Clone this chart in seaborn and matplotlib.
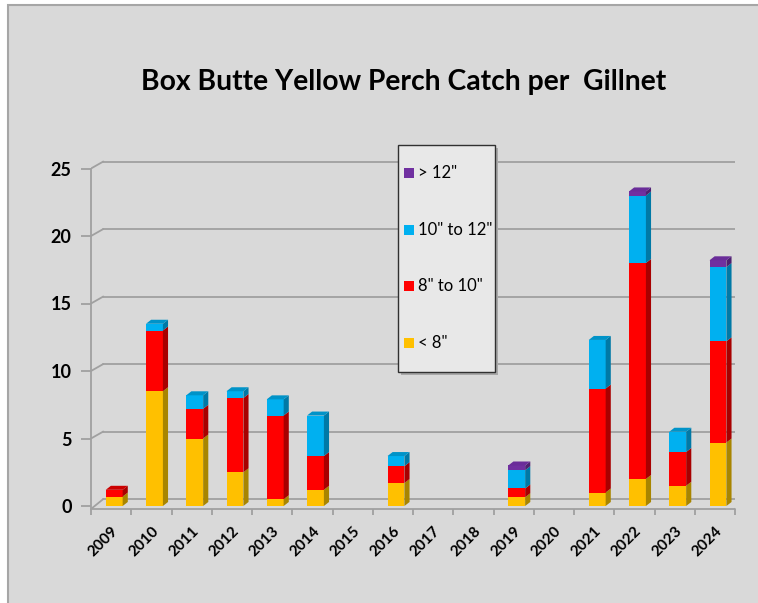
import numpy as np
import pandas as pd
import matplotlib
matplotlib.use('Agg')
import matplotlib.pyplot as plt
from matplotlib.patches import Polygon, Rectangle
import seaborn as sns

# data (catch per gillnet, stacked by length class)
years = ['2009', '2010', '2011', '2012', '2013', '2014', '2015', '2016',
         '2017', '2018', '2019', '2020', '2021', '2022', '2023', '2024']
under_8 = [0.7, 8.5, 5.0, 2.5, 0.5, 1.2, 0, 1.7, 0, 0, 0.65, 0, 1.0, 2.0, 1.5, 4.7]
from_8_to_10 = [0.5, 4.5, 2.2, 5.5, 6.2, 2.5, 0, 1.25, 0, 0, 0.65, 0, 7.7, 16.0, 2.5, 7.5]
from_10_to_12 = [0, 0.5, 1.0, 0.5, 1.2, 3.0, 0, 0.75, 0, 0, 1.35, 0, 3.6, 5.0, 1.5, 5.5]
over_12 = [0, 0, 0, 0, 0, 0, 0, 0, 0, 0, 0.35, 0, 0, 0.3, 0, 0.5]

series_labels = ['< 8"', '8" to 10"', '10" to 12"', '> 12"']
front_cols = ['#FFC000', '#FF0000', '#00B0F0', '#7030A0']
side_cols = ['#A88500', '#A80000', '#0079A6', '#4E2170']
top_cols = ['#D9A300', '#CC0000', '#0093C8', '#6A2D99']

df = pd.DataFrame({'year': years, '< 8"': under_8, '8" to 10"': from_8_to_10,
                   '10" to 12"': from_10_to_12, '> 12"': over_12})

sns.set_style('white')
plt.rcParams['font.family'] = ['Lato', 'DejaVu Sans']
plt.rcParams['text.color'] = 'black'
plt.rcParams['xtick.color'] = 'black'
plt.rcParams['ytick.color'] = 'black'

W, H = 758, 603
fig = plt.figure(figsize=(W / 100, H / 100), dpi=100)
fig.patch.set_facecolor('white')
fig.patches.append(Rectangle((8 / W, -0.01), 1.0, 1 - 5 / H + 0.01, transform=fig.transFigure,
                             facecolor='#D9D9D9', edgecolor='#A6A6A6', lw=1.5, zorder=-5))

ax = fig.add_axes([91 / W, (H - 509) / H, (735 - 91) / W, 359 / H])
ax.set_facecolor('none')

slot = 39.2   # px per category
upx = 13.5    # px per unit
x_right = -0.5 + (735 - 91) / slot
y_floor = -3 / upx
ax.set_xlim(-0.5, x_right)
ax.set_ylim(y_floor, y_floor + 359 / upx)

# back wall gridlines with oblique connectors
wdx, wdy = 12 / slot, 7 / upx
gcol = '#A0A0A0'
for v in range(0, 30, 5):
    y0 = y_floor if v == 0 else v
    ax.plot([-0.5, -0.5 + wdx], [y0, v + wdy], color=gcol, lw=1.3, zorder=1)
    ax.plot([-0.5 + wdx, x_right], [v + wdy, v + wdy], color=gcol, lw=1.3, zorder=1)
# floor
ax.plot([-0.5, 15.5], [y_floor, y_floor], color=gcol, lw=1.3, zorder=1, clip_on=False)
ax.plot([15.5, 15.5 + 10 / slot], [y_floor, wdy], color=gcol, lw=1.3, zorder=1)

# stacked bars
bottom = np.zeros(len(years))
for lab, col in zip(series_labels, front_cols):
    sns.barplot(data=df, x='year', y=lab, bottom=bottom, color=col, width=0.42,
                ax=ax, zorder=3, linewidth=0, saturation=1)
    bottom = bottom + df[lab].values

# depth faces computed from drawn bars
bdx, bdy = 5 / slot, 4 / upx
shift = 3 / slot
tops = {}
n = len(years)
for i, p in enumerate(list(ax.patches)):
    s = i // n
    p.set_x(p.get_x() + shift)
    h = p.get_height()
    if h <= 0:
        continue
    x0, y0, w = p.get_x(), p.get_y(), p.get_width()
    x1, y1 = x0 + w, y0 + h
    ax.add_patch(Polygon([(x1, y0), (x1 + bdx, y0 + bdy), (x1 + bdx, y1 + bdy), (x1, y1)],
                         closed=True, facecolor=side_cols[s], lw=0, zorder=3))
    tops[i % n] = (x0, x1, y1, s)
for k, (x0, x1, y1, s) in tops.items():
    ax.add_patch(Polygon([(x0, y1), (x0 + bdx, y1 + bdy), (x1 + bdx, y1 + bdy), (x1, y1)],
                         closed=True, facecolor=top_cols[s], lw=0, zorder=3))

# axes styling
for sp in ['top', 'right', 'bottom']:
    ax.spines[sp].set_visible(False)
ax.spines['left'].set_color(gcol)
ax.spines['left'].set_linewidth(1.3)
ax.spines['left'].set_bounds(y_floor, 25)
ax.set_yticks(range(0, 30, 5))
ax.set_yticklabels([str(v) for v in range(0, 30, 5)], fontsize=13, fontweight='bold')
ax.tick_params(axis='y', length=7, width=1.3, color=gcol, labelcolor='black', pad=7, left=True)
ax.set_xticks(range(n))
ax.set_xticklabels(years, rotation=45, ha='right', rotation_mode='anchor',
                   fontsize=11, fontweight='bold')
ax.set_xticks(np.arange(-0.5, 16, 1), minor=True)
ax.tick_params(axis='x', which='major', length=0, pad=11, labelcolor='black')
ax.tick_params(axis='x', which='minor', length=4, width=1.3, color=gcol, bottom=True)
ax.set_xlabel('')
ax.set_ylabel('')

fig.text(404 / W, 1 - 82 / H, 'Box Butte Yellow Perch Catch per  Gillnet',
         ha='center', va='center', fontsize=20.3, fontweight='bold', color='black')

# legend box (drawn in figure pixels)
def fx(px):
    return px / W

def fy(py):
    return 1 - py / H

fig.add_artist(Rectangle((fx(401), fy(375)), (495 - 398) / W, (372 - 145) / H,
                         transform=fig.transFigure, facecolor='#A8A8A8', lw=0, zorder=4))
fig.add_artist(Rectangle((fx(398), fy(372)), (495 - 398) / W, (372 - 145) / H,
                         transform=fig.transFigure, facecolor='#E8E8E8',
                         edgecolor='#303030', lw=1.0, zorder=5))
for j, (lab, col) in enumerate(zip(series_labels[::-1], front_cols[::-1])):
    cy = 173 + j * 56.6
    fig.add_artist(Rectangle((fx(404), fy(cy + 5)), 10 / W, 10 / H, transform=fig.transFigure,
                             facecolor=col, lw=0, zorder=6))
    fig.text(fx(418), fy(cy), lab, ha='left', va='center', fontsize=12, zorder=6)

fig.savefig('out.png', dpi=100)
